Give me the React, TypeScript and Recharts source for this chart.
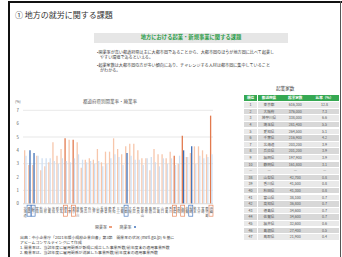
import React from "react";
import { BarChart, Bar, XAxis, YAxis, CartesianGrid, Cell } from "recharts";

const prefs = [
  "北海道", "青森", "岩手", "宮城", "秋田", "山形", "福島", "茨城", "栃木", "群馬",
  "埼玉", "千葉", "東京", "神奈川", "新潟", "富山", "石川", "福井", "山梨", "長野",
  "岐阜", "静岡", "愛知", "三重", "滋賀", "京都", "大阪", "兵庫", "奈良", "和歌山",
  "鳥取", "島根", "岡山", "広島", "山口", "徳島", "香川", "愛媛", "高知", "福岡",
  "佐賀", "長崎", "熊本", "大分", "宮崎", "鹿児島", "沖縄",
];
// 開業率 (%)
const kaigyo = [
  4.0, 2.9, 2.9, 3.6, 2.5, 2.8, 3.1, 4.6, 3.6, 4.1,
  4.9, 4.8, 4.8, 4.6, 2.7, 3.3, 3.4, 3.3, 4.1, 3.1,
  3.9, 3.9, 4.9, 4.1, 3.7, 4.3, 4.5, 4.5, 4.0, 3.4,
  3.4, 2.5, 4.1, 3.7, 3.7, 3.4, 3.9, 3.6, 3.0, 5.1,
  3.5, 3.8, 4.3, 4.3, 4.0, 3.7, 6.6,
];
// 廃業率 (%)
const haigyo = [
  3.6, 4.0, 3.8, 3.6, 3.4, 3.4, 3.4, 3.2, 3.0, 3.4,
  3.2, 3.1, 3.4, 3.7, 3.3, 3.1, 3.2, 3.0, 3.2, 2.8,
  3.0, 3.4, 3.7, 3.5, 2.9, 3.8, 3.6, 3.3, 3.3, 2.9,
  3.4, 3.5, 3.1, 2.8, 3.4, 3.0, 3.4, 2.9, 3.6, 4.0,
  3.5, 4.3, 3.0, 3.6, 3.4, 3.5, 3.7,
];
const hiKaigyo = ["埼玉", "東京", "愛媛", "福岡", "沖縄"];
const hiHaigyo = ["青森", "岩手", "京都", "福岡", "長崎"];
const yTicks = [0, 1, 2, 3, 4, 5, 6, 7];

// 起業家数 table
const rankNo = ["1", "2", "3", "4", "5", "6", "7", "8", "9", "10", "—", "38", "39", "40", "41", "42", "43", "44", "45", "46", "47"];
const rankPref = ["東京都", "大阪府", "神奈川県", "埼玉県", "愛知県", "千葉県", "北海道", "兵庫県", "福岡県", "静岡県", "—", "山梨県", "香川県", "秋田県", "富山県", "高知県", "徳島県", "佐賀県", "福井県", "島根県", "鳥取県"];
const rankCount = ["616,300", "376,000", "338,000", "281,400", "264,500", "216,900", "203,200", "201,200", "197,900", "161,800", "—", "42,700", "41,500", "41,300", "38,100", "36,800", "34,600", "34,600", "32,600", "27,400", "21,900"];
const rankRatio = ["12.8", "7.3", "6.6", "5.5", "5.1", "4.2", "3.9", "3.9", "3.9", "3.1", "—", "0.8", "0.8", "0.8", "0.7", "0.7", "0.7", "0.7", "0.6", "0.5", "0.4"];
const tableHead = ["順位", "都道府県", "起業家数", "比率（%）"];

const ORANGE = "#f7c6ab";
const ORANGE_DARK = "#e27a4e";
const BLUE = "#cfdff2";
const BLUE_DARK = "#4070b6";
const GREEN = "#35a852";

const data = prefs.map((name, i) => ({ name, kaigyo: kaigyo[i], haigyo: haigyo[i] }));

function PrefTick(props: any) {
  const { x, y, payload } = props;
  const name: string = payload.value;
  const box = hiKaigyo.includes(name) ? "#e8885e" : hiHaigyo.includes(name) ? "#4a78bd" : null;
  return (
    <g>
      {box && (
        <rect x={x - 2} y={y + 1.5} width={4} height={11} fill="none" stroke={box} strokeWidth={0.7} />
      )}
      {name.split("").map((c, i) => (
        <text key={i} x={x} y={y + 5.8 + i * 3.5} textAnchor="middle" fontSize={3.2} fill="#595959">
          {c}
        </text>
      ))}
    </g>
  );
}

const abs = (left: number, top: number, extra: React.CSSProperties = {}): React.CSSProperties => ({
  position: "absolute",
  left,
  top,
  whiteSpace: "nowrap",
  lineHeight: 1,
  ...extra,
});

export default function App() {
  const colX = [244, 257.5, 281, 310];
  const colW = [13, 23, 28.5, 29];
  const rowH = 6.6;
  const tableTop = 94.5;

  return (
    <div
      style={{
        position: "absolute",
        left: 0,
        top: 0,
        width: 342,
        height: 257,
        background: "#fff",
        overflow: "hidden",
        fontFamily: '"Noto Sans CJK JP", "Noto Sans", sans-serif',
        color: "#333",
      }}
    >
      {/* frame */}
      <div style={abs(7.5, 1, { width: 335, height: 2, background: "#111" })} />
      <div style={abs(7.5, 1, { width: 2, height: 256, background: "#111" })} />
      <div style={abs(340, 1, { width: 1, height: 256, background: "#555" })} />

      <div style={abs(15, 10.5, { fontSize: 8, color: "#333" })}>① 地方の就労に関する課題</div>

      <div
        style={abs(94, 33, {
          width: 194,
          height: 9.5,
          background: "#e6e6e6",
          display: "flex",
          alignItems: "center",
          justifyContent: "center",
        })}
      >
        <span style={{ fontSize: 5.3, fontWeight: 700, color: "#2e9e4a" }}>
          地方における起業・新規事業に関する課題
        </span>
      </div>

      <div style={abs(97, 49.9, { fontSize: 4.1, color: "#404040" })}>
        •開業率が高い都道府県は主に大都市圏であることから、大都市圏のほうが地方圏に比べて起業し
      </div>
      <div style={abs(100, 55.0, { fontSize: 4.1, color: "#404040" })}>やすい環境であるといえる。</div>
      <div style={abs(97, 62.8, { fontSize: 4.1, color: "#404040" })}>
        •起業家数は大都市圏の方が多い傾向にあり、チャレンジする人材は都市圏に集中していること
      </div>
      <div style={abs(100, 67.9, { fontSize: 4.1, color: "#404040" })}>がわかる。</div>

      {/* chart */}
      <div style={abs(15, 99.8, { fontSize: 3.6, color: "#595959" })}>(%)</div>
      <div style={abs(60, 99.4, { width: 100, textAlign: "center", fontSize: 4.5, color: "#595959" })}>
        都道府県別開業率・廃業率
      </div>
      <div style={{ position: "absolute", left: 0, top: 95 }}>
        <BarChart
          width={230}
          height={140}
          data={data}
          margin={{ top: 15.3, right: 17, bottom: 17.3, left: 0 }}
          barGap={0}
          barSize={1.3}
        >
          <CartesianGrid vertical={false} stroke="#d9d9d9" strokeWidth={0.6} />
          <XAxis
            dataKey="name"
            interval={0}
            height={14}
            tickSize={0}
            tickMargin={0}
            tickLine={false}
            axisLine={{ stroke: "#d9d9d9", strokeWidth: 0.6 }}
            tick={<PrefTick />}
          />
          <YAxis
            domain={[0, 7]}
            ticks={yTicks}
            width={23}
            tickSize={0}
            tickMargin={4}
            axisLine={false}
            tickLine={false}
            tick={{ fontSize: 4.3, fill: "#595959" }}
          />
          <Bar dataKey="kaigyo" isAnimationActive={false}>
            {data.map((d) => (
              <Cell key={d.name} fill={hiKaigyo.includes(d.name) ? ORANGE_DARK : ORANGE} />
            ))}
          </Bar>
          <Bar dataKey="haigyo" isAnimationActive={false}>
            {data.map((d) => (
              <Cell key={d.name} fill={hiHaigyo.includes(d.name) ? BLUE_DARK : BLUE} />
            ))}
          </Bar>
        </BarChart>
      </div>
      <div style={abs(95, 225, { fontSize: 4, color: "#595959", display: "flex", alignItems: "center" })}>
        <span>開業率</span>
        <span style={{ width: 2.6, height: 2.6, background: "#ee9f7c", marginLeft: 2, marginRight: 8 }} />
        <span>廃業率</span>
        <span style={{ width: 2.6, height: 2.6, background: "#6f95cc", marginLeft: 2 }} />
      </div>

      {/* footnote */}
      <div style={abs(20, 236.3, { fontSize: 3.9, color: "#404040" })}>
        出典：中小企業庁「2021年版小規模企業白書」第3節　開業率の状況 (meti.go.jp) を基に
      </div>
      <div style={abs(20, 240.8, { fontSize: 3.9, color: "#404040" })}>アビームコンサルティングにて作成</div>
      <div style={abs(20, 246.3, { fontSize: 3.9, color: "#404040" })}>
        1. 開業率は、当該年度に雇用関係が新規に成立した事業所数/前年度末の適用事業所数
      </div>
      <div style={abs(20, 250.8, { fontSize: 3.9, color: "#404040" })}>
        2. 廃業率は、当該年度に雇用関係が消滅した事業所数/前年度末の適用事業所数
      </div>

      {/* table */}
      <div style={abs(276, 85.5, { fontSize: 4.6, color: "#404040" })}>起業家数</div>
      {tableHead.map((h, c) => (
        <div
          key={h}
          style={abs(colX[c], tableTop, {
            width: colW[c],
            height: rowH,
            background: GREEN,
            color: "#fff",
            fontSize: 3.6,
            fontWeight: 700,
            display: "flex",
            alignItems: "center",
            justifyContent: "center",
          })}
        >
          {h}
        </div>
      ))}
      {rankNo.map((no, r) => {
        const cells = [no, rankPref[r], rankCount[r], rankRatio[r]];
        return cells.map((v, c) => (
          <div
            key={`${r}-${c}`}
            style={abs(colX[c], tableTop + rowH * (r + 1), {
              width: colW[c],
              height: rowH,
              background: r % 2 === 0 ? "#e9e9e9" : "#d8d8d8",
              color: "#555",
              fontSize: 3.6,
              display: "flex",
              alignItems: "center",
              justifyContent: "center",
              borderTop: "0.5px solid #fff",
              boxSizing: "border-box",
            })}
          >
            {v}
          </div>
        ));
      })}
    </div>
  );
}
